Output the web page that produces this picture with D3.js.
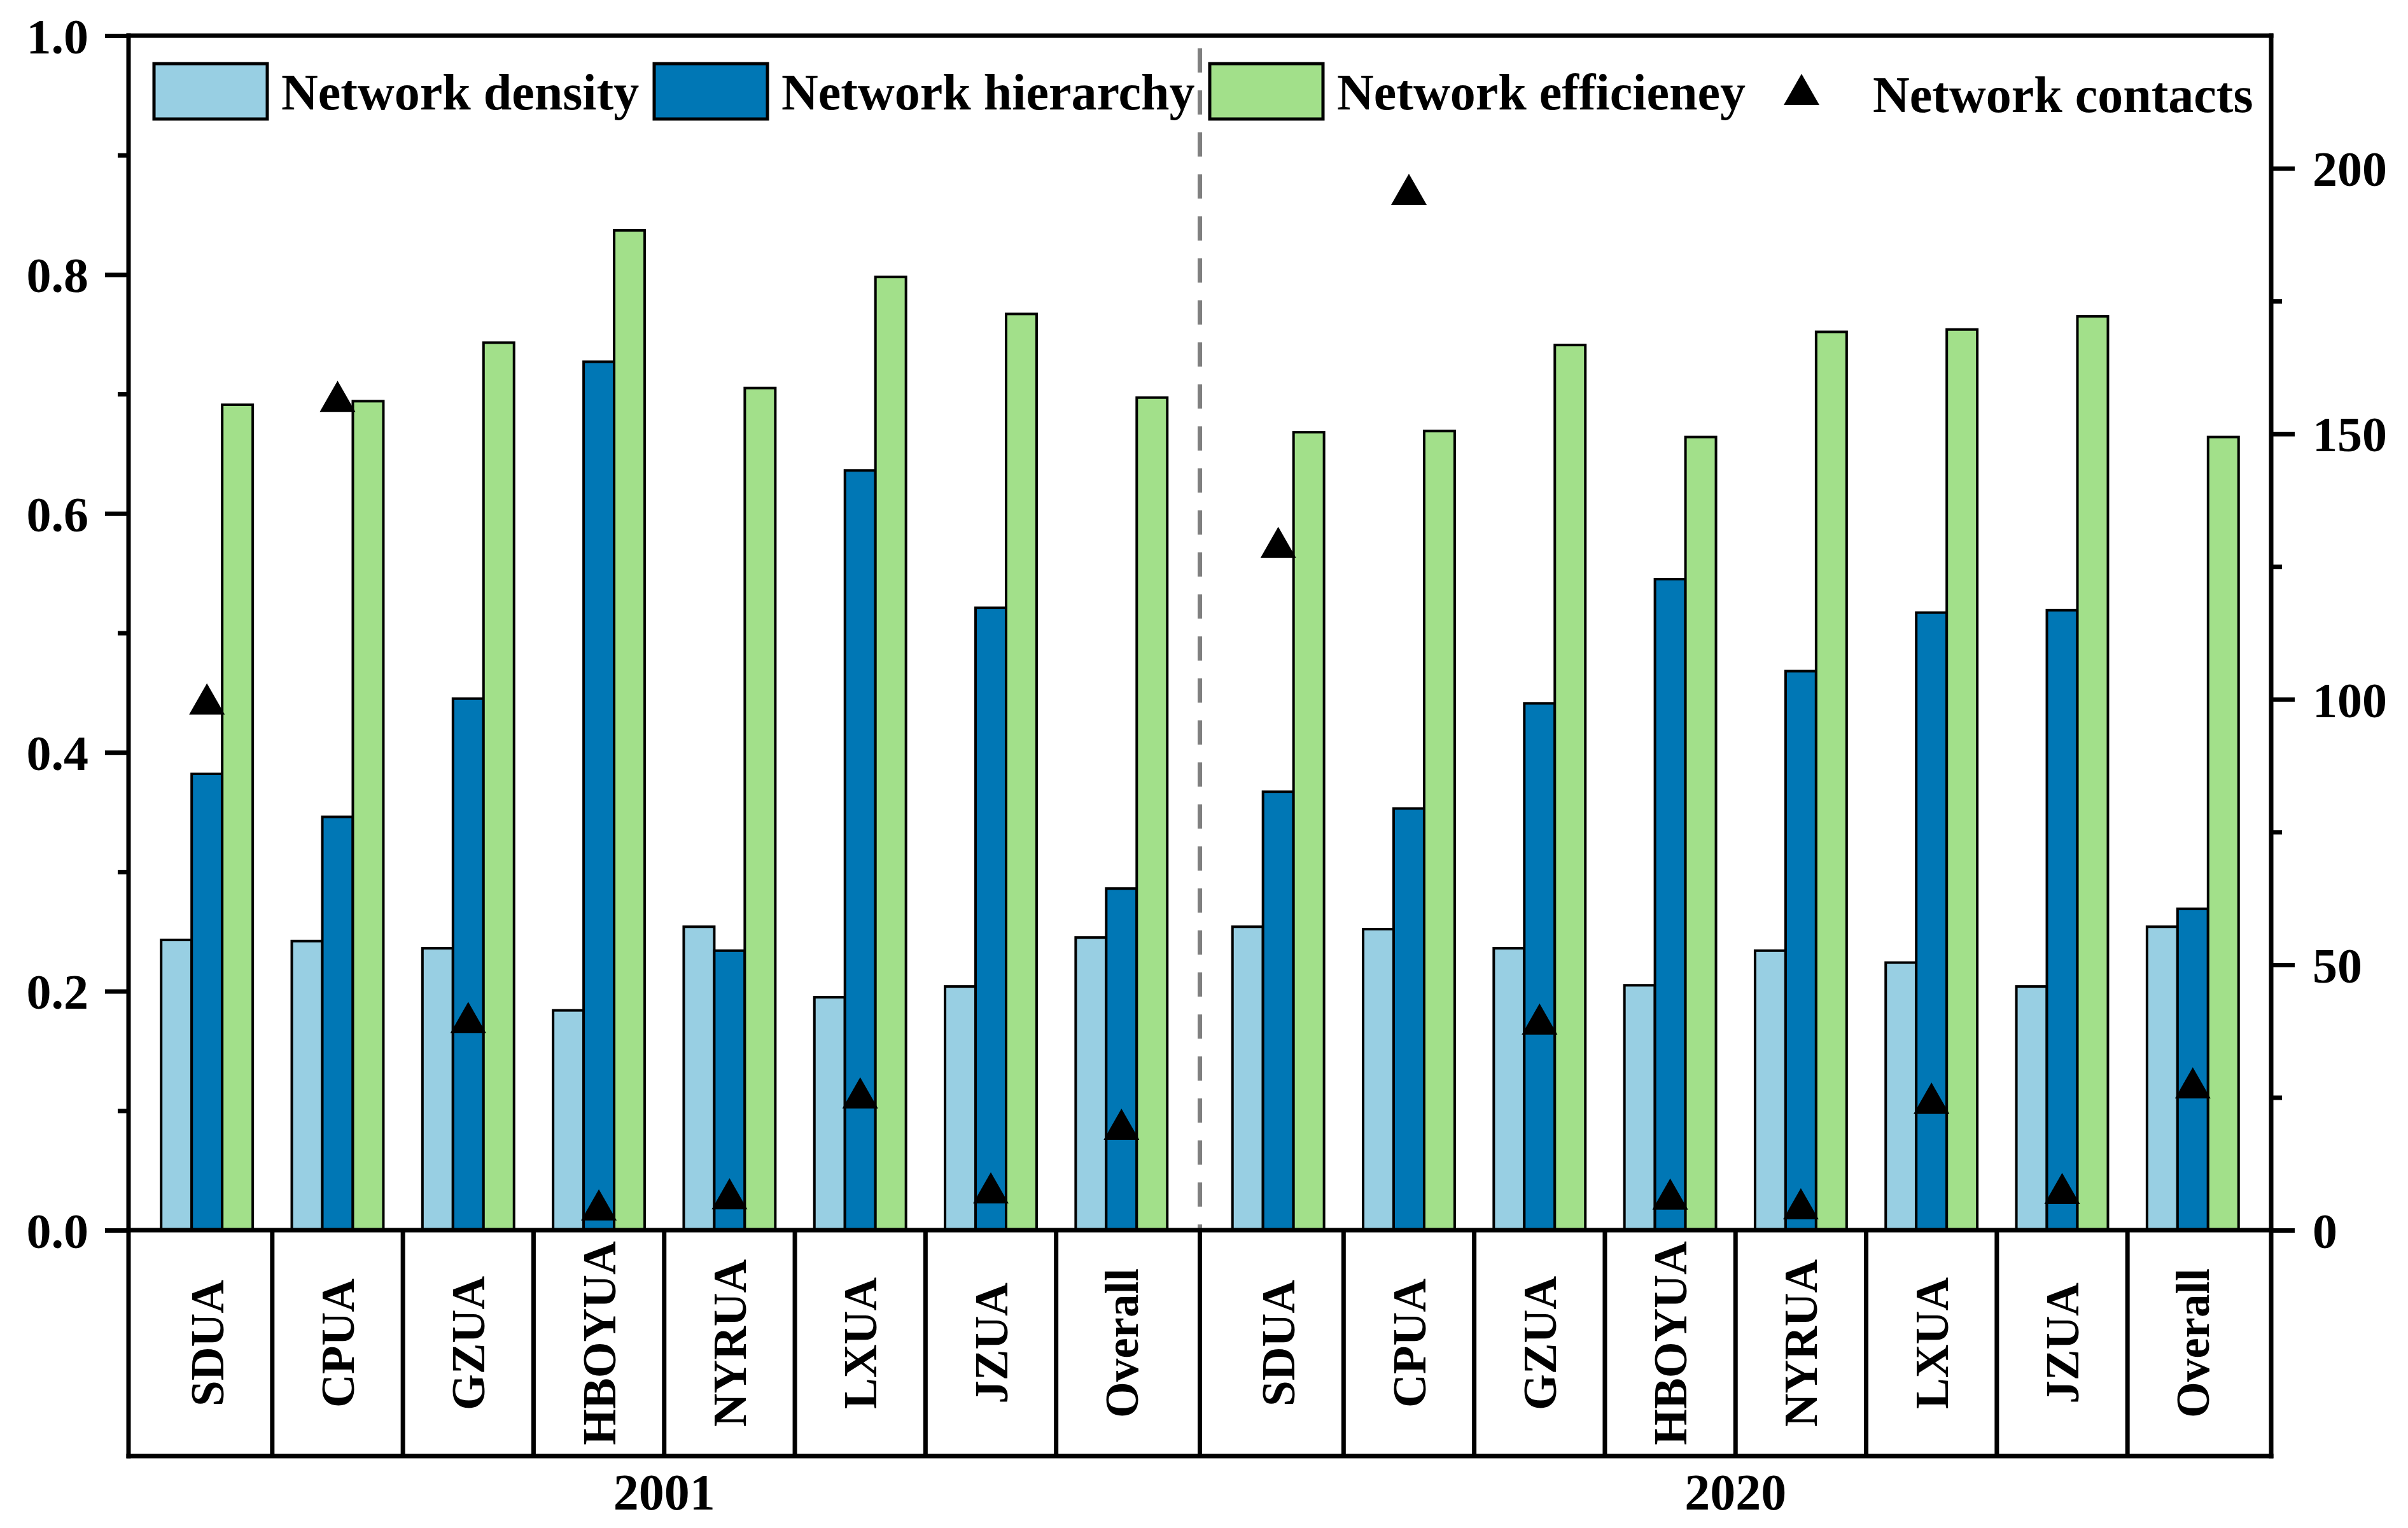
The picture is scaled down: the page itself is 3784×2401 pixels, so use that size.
<!DOCTYPE html>
<html>
<head>
<meta charset="utf-8">
<script src="https://cdn.jsdelivr.net/npm/d3@7"></script>
<style>
  html, body { margin: 0; padding: 0; background: #fff; }
  svg text { font-family: "Liberation Serif", "Times New Roman", serif; font-weight: bold; fill: #000; }
</style>
</head>
<body>
<div id="chart"></div>
<script>
// data
const years = ['2001', '2020'];
const categories = ['SDUA', 'CPUA', 'GZUA', 'HBOYUA', 'NYRUA', 'LXUA', 'JZUA', 'Overall'];
const seriesNames = ['Network density', 'Network hierarchy', 'Network efficieney'];
const contactsName = 'Network contacts';

const density2001 = [0.243, 0.242, 0.236, 0.184, 0.254, 0.195, 0.204, 0.245];
const hierarchy2001 = [0.382, 0.346, 0.445, 0.727, 0.234, 0.636, 0.521, 0.286];
const efficiency2001 = [0.691, 0.694, 0.743, 0.837, 0.705, 0.798, 0.767, 0.697];
const contacts2001 = [100, 157, 40, 4.7, 6.8, 25.8, 7.9, 19.9];

const density2020 = [0.254, 0.252, 0.236, 0.205, 0.234, 0.224, 0.204, 0.254];
const hierarchy2020 = [0.367, 0.353, 0.441, 0.545, 0.468, 0.517, 0.519, 0.269];
const efficiency2020 = [0.668, 0.669, 0.741, 0.664, 0.752, 0.754, 0.765, 0.664];
const contacts2020 = [129.5, 196, 39.7, 6.75, 4.9, 24.8, 7.8, 27.7];

const leftTicks = [0, 0.2, 0.4, 0.6, 0.8, 1.0];
const leftMinor = [0.1, 0.3, 0.5, 0.7, 0.9];
const rightTicks = [0, 50, 100, 150, 200];
const rightMinor = [25, 75, 125, 175];

const colors = ['#98cfe3', '#0077b5', '#a2e08a'];

// layout
const W = 3784;
const H = 2401;
const plot = { left: 202, right: 3569, top: 56, bottom: 1933 };
const boxBottom = 2288;

const renderChart = (chartNode) => {
  const svg = d3.select(chartNode)
    .append('svg')
    .attr('width', W)
    .attr('height', H)
    .style('display', 'block');

  svg.append('rect').attr('width', W).attr('height', H).attr('fill', '#fff');

  const yLeft = d3.scaleLinear().domain([0, 1]).range([plot.bottom, plot.top]);
  const yRight = d3.scaleLinear().domain([0, 225]).range([plot.bottom, plot.top]);

  // one section per year, categories as bands inside it
  const xYear = d3.scaleBand().domain(years).range([plot.left, plot.right]);
  const xCat = d3.scaleBand().domain(categories)
    .range([0, xYear.bandwidth()])
    .paddingInner(0)
    .paddingOuter(0.1);
  const xSeries = d3.scaleBand().domain(seriesNames)
    .range([0, xCat.bandwidth()])
    .paddingOuter(0.64);

  const table = years.map((yr, yi) => {
    const dens = yi === 0 ? density2001 : density2020;
    const hier = yi === 0 ? hierarchy2001 : hierarchy2020;
    const eff = yi === 0 ? efficiency2001 : efficiency2020;
    const cont = yi === 0 ? contacts2001 : contacts2020;
    return categories.map((c, i) => ({
      year: yr, cat: c, values: [dens[i], hier[i], eff[i]], contacts: cont[i],
    }));
  }).flat();

  const catX = (d) => xYear(d.year) + xCat(d.cat);

  // dashed separator between years
  svg.append('line')
    .attr('x1', xYear('2020')).attr('x2', xYear('2020'))
    .attr('y1', plot.top + 20).attr('y2', plot.bottom)
    .attr('stroke', '#808080')
    .attr('stroke-width', 7)
    .attr('stroke-dasharray', '38,28');

  // bars
  const groups = svg.selectAll('g.cat')
    .data(table)
    .enter()
    .append('g')
    .attr('class', 'cat')
    .attr('transform', (d) => `translate(${catX(d)},0)`);

  groups.selectAll('rect')
    .data((d) => d.values.map((v, k) => ({ v, k })))
    .enter()
    .append('rect')
    .attr('x', (d) => xSeries(seriesNames[d.k]))
    .attr('y', (d) => yLeft(d.v))
    .attr('width', xSeries.bandwidth())
    .attr('height', (d) => yLeft(0) - yLeft(d.v))
    .attr('fill', (d) => colors[d.k])
    .attr('stroke', '#000')
    .attr('stroke-width', 4);

  // triangles (right axis)
  const tri = 'M0,-25L28,24L-28,24Z';
  svg.selectAll('path.contact')
    .data(table)
    .enter()
    .append('path')
    .attr('class', 'contact')
    .attr('d', tri)
    .attr('transform', (d) => `translate(${catX(d) + xSeries(seriesNames[1]) + xSeries.bandwidth() / 2},${yRight(d.contacts)})`)
    .attr('fill', '#000');

  // left axis
  const axisL = svg.append('g').attr('transform', `translate(${plot.left},0)`);
  axisL.call(d3.axisLeft(yLeft).tickValues(leftTicks).tickSize(37).tickSizeOuter(0)
    .tickPadding(26).tickFormat(d3.format('.1f')));
  axisL.append('g').call(d3.axisLeft(yLeft).tickValues(leftMinor).tickSize(17).tickSizeOuter(0).tickFormat(''));

  // right axis
  const axisR = svg.append('g').attr('transform', `translate(${plot.right},0)`);
  axisR.call(d3.axisRight(yRight).tickValues(rightTicks).tickSize(37).tickSizeOuter(0)
    .tickPadding(28).tickFormat(d3.format('d')));
  axisR.append('g').call(d3.axisRight(yRight).tickValues(rightMinor).tickSize(17).tickSizeOuter(0).tickFormat(''));

  svg.selectAll('.domain').remove();
  svg.selectAll('.tick line').attr('stroke', '#000').attr('stroke-width', 7);
  svg.selectAll('.tick text')
    .style('font-size', '78px')
    .style('font-family', '"Liberation Serif", "Times New Roman", serif')
    .style('font-weight', 'bold')
    .attr('fill', '#000')
    .attr('dy', '0.35em');

  // frame: top, zero line, sides down to the category box
  const frame = svg.append('g').attr('stroke', '#000').attr('stroke-width', 7).attr('stroke-linecap', 'square');
  frame.append('line').attr('x1', plot.left).attr('x2', plot.right).attr('y1', plot.top).attr('y2', plot.top);
  frame.append('line').attr('x1', plot.left).attr('x2', plot.right).attr('y1', yLeft(0)).attr('y2', yLeft(0));
  frame.append('line').attr('x1', plot.left).attr('x2', plot.left).attr('y1', plot.top).attr('y2', boxBottom);
  frame.append('line').attr('x1', plot.right).attr('x2', plot.right).attr('y1', plot.top).attr('y2', boxBottom);
  frame.append('line').attr('x1', plot.left).attr('x2', plot.right).attr('y1', boxBottom).attr('y2', boxBottom);

  // category box dividers
  const dividers = [];
  years.forEach((yr) => {
    categories.forEach((c, i) => {
      if (i > 0) dividers.push(xYear(yr) + xCat(c) - (xCat.step() - xCat.bandwidth()) / 2);
    });
  });
  dividers.push(xYear('2020'));
  frame.selectAll('line.div')
    .data(dividers)
    .enter()
    .append('line')
    .attr('class', 'div')
    .attr('x1', (d) => d).attr('x2', (d) => d)
    .attr('y1', yLeft(0)).attr('y2', boxBottom)
    .attr('stroke-linecap', 'butt');

  // category labels
  const labelY = (yLeft(0) + boxBottom) / 2;
  svg.selectAll('text.cat')
    .data(table)
    .enter()
    .append('text')
    .attr('class', 'cat')
    .attr('transform', (d) => `translate(${catX(d) + xCat.bandwidth() / 2},${labelY}) rotate(-90)`)
    .attr('text-anchor', 'middle')
    .attr('dy', '0.35em')
    .style('font-size', '73px')
    .text((d) => d.cat);

  // year labels
  svg.selectAll('text.year')
    .data(years)
    .enter()
    .append('text')
    .attr('class', 'year')
    .attr('x', (d) => xYear(d) + xYear.bandwidth() / 2)
    .attr('y', 2372)
    .attr('text-anchor', 'middle')
    .style('font-size', '80px')
    .text((d) => d);

  // legend
  const swatchX = [242, 1028, 1901];
  const legend = svg.append('g');
  seriesNames.forEach((name, k) => {
    legend.append('rect')
      .attr('x', swatchX[k]).attr('y', 100)
      .attr('width', 178).attr('height', 87)
      .attr('fill', colors[k])
      .attr('stroke', '#000')
      .attr('stroke-width', 5);
    legend.append('text')
      .attr('x', swatchX[k] + 200)
      .attr('y', 172)
      .style('font-size', '80px')
      .text(name);
  });
  legend.append('path')
    .attr('d', tri)
    .attr('transform', 'translate(2831,141)')
    .attr('fill', '#000');
  legend.append('text')
    .attr('x', 2943)
    .attr('y', 176)
    .style('font-size', '80px')
    .text(contactsName);
};

window.addEventListener('load', () => {
  renderChart(document.getElementById('chart'));
});
</script>
</body>
</html>
